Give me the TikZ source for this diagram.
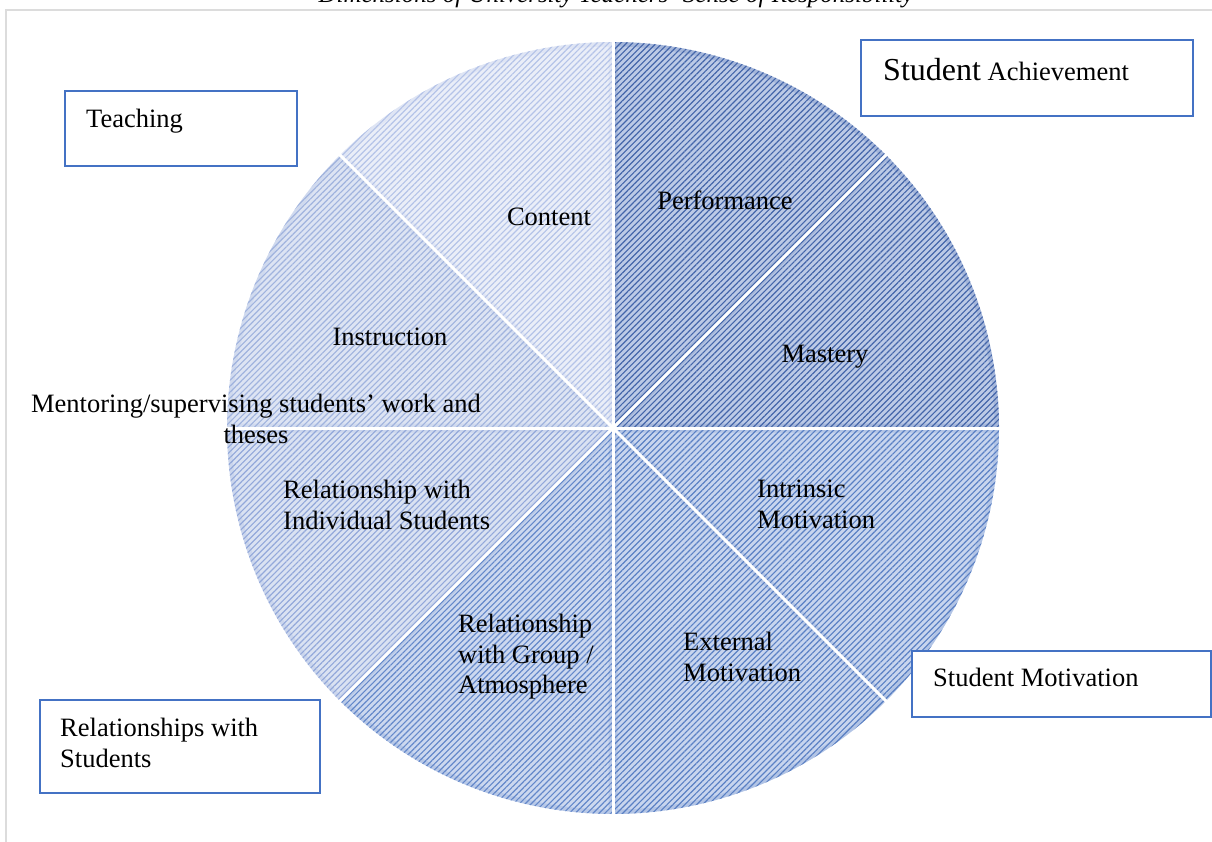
\documentclass[tikz,border=0pt]{standalone}
\usepackage{fontspec}
\setmainfont{Liberation Serif}
\usetikzlibrary{patterns.meta}
\definecolor{framegray}{HTML}{DCDCDC}
\definecolor{boxblue}{HTML}{4472C4}
\definecolor{baseA}{HTML}{BCCAE6}
\definecolor{lineA}{HTML}{4466AA}
\definecolor{baseB}{HTML}{C8D5EE}
\definecolor{lineB}{HTML}{5A80C4}
\definecolor{baseC}{HTML}{CCD8EF}
\definecolor{lineC}{HTML}{6488CA}
\definecolor{baseD}{HTML}{DAE2F2}
\definecolor{lineD}{HTML}{93A8DA}
\definecolor{baseE}{HTML}{DDE4F3}
\definecolor{lineE}{HTML}{A0B3DE}
\definecolor{baseF}{HTML}{EAEEF8}
\definecolor{lineF}{HTML}{B4C3E8}
\tikzset{
  lbl/.style={inner sep=0pt, font=\fontsize{26.5}{30.5}\selectfont, text=black},
  boxframe/.style={draw=boxblue, line width=2pt, fill=white, inner sep=0pt},
}
\begin{document}
\begin{tikzpicture}[x=1pt,y=-1pt]
\useasboundingbox (0,0) rectangle (1212,842);
% page frame
\draw[framegray, line width=2pt] (6,860) -- (6,10) -- (1230,10);
% title (cut off at the top edge, as in the reference)
\node[inner sep=0pt, anchor=base, font=\fontsize{25}{30}\selectfont\itshape] (title) at (616,3)
  {Dimensions of University Teachers’ Sense of Responsibility};
% pie slices
\coordinate (c) at (613,428);
\foreach \a/\b/\base/\ln in {90/45/baseA/lineA, 45/0/baseA/lineA, 0/-45/baseB/lineB, -45/-90/baseB/lineB,
    -90/-135/baseC/lineC, -135/-180/baseD/lineD, 180/135/baseE/lineE, 135/90/baseF/lineF} {
  \begin{scope}[shift={(613,428)}, y=1pt]
    \path[fill=\base] (0,0) -- (\a:386) arc[start angle=\a, end angle=\b, radius=386] -- cycle;
    \path[pattern={Lines[angle=45,distance=4.2pt,line width=1.15pt]}, pattern color=\ln]
      (0,0) -- (\a:386) arc[start angle=\a, end angle=\b, radius=386] -- cycle;
    \begin{scope}
      \clip (0,0) -- (\a:386) arc[start angle=\a, end angle=\b, radius=386] -- cycle;
      \draw[\ln, opacity=0.2, line width=9pt]
        (0,0) -- (\a:386) arc[start angle=\a, end angle=\b, radius=386] -- cycle;
    \end{scope}
  \end{scope}
}
% white separators
\foreach \t in {0,45,...,315} {
  \begin{scope}[shift={(613,428)}, y=1pt]
    \draw[white, line width=3pt] (0,0) -- (\t:392);
  \end{scope}
}
% slice labels
\node[lbl, anchor=base] (content) at (549,226) {Content};
\node[lbl, anchor=base] (perf) at (725,210) {Performance};
\node[lbl, anchor=base] (mastery) at (825,362) {Mastery};
\node[lbl, anchor=north west, align=left] (intr) at (757,480) {Intrinsic\\Motivation};
\node[lbl, anchor=north west, align=left] (ext) at (683,632) {External\\Motivation};
\node[lbl, anchor=north west, align=left] (group) at (458,614) {Relationship\\with Group /\\Atmosphere};
\node[lbl, anchor=north west, align=left] (indiv) at (283,480) {Relationship with\\Individual Students};
\node[lbl, anchor=base] (instr) at (390,345) {Instruction};
\node[lbl, anchor=north, align=center] (mentor) at (256,394) {Mentoring/supervising students’ work and\\theses};
% category boxes
\node[boxframe, anchor=north west, minimum width=232pt, minimum height=75pt] (teachbox) at (64,90) {};
\node[lbl, anchor=base west] (teach) at (86,128) {Teaching};
\node[boxframe, anchor=north west, minimum width=332pt, minimum height=76pt] (achbox) at (860,39) {};
\node[lbl, anchor=base west] (ach) at (883,81) {{\fontsize{32}{36}\selectfont Student} Achievement};
\node[boxframe, anchor=north west, minimum width=299pt, minimum height=66pt] (motbox) at (911,650) {};
\node[lbl, anchor=base west] (mot) at (933,686) {Student Motivation};
\node[boxframe, anchor=north west, minimum width=280pt, minimum height=93pt] (relbox) at (39,699) {};
\node[lbl, anchor=north west, align=left] (rel) at (60,718) {Relationships with\\Students};
\end{tikzpicture}
\end{document}
